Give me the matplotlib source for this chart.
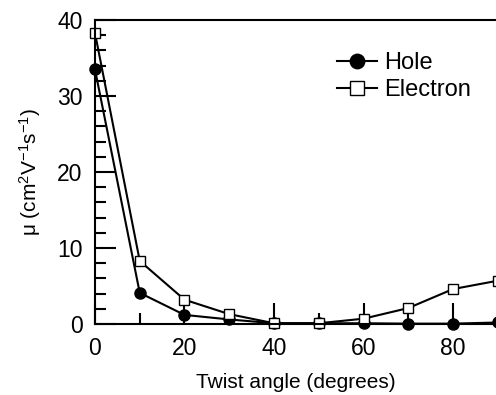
import matplotlib
matplotlib.use("Agg")
import matplotlib.pyplot as plt
from matplotlib.ticker import MultipleLocator

plt.rcParams['font.family'] = ['Liberation Sans', 'DejaVu Sans']
plt.rcParams['mathtext.fontset'] = 'custom'
plt.rcParams['mathtext.rm'] = 'Liberation Sans'
plt.rcParams['mathtext.it'] = 'Liberation Sans'

# data
angle = [0, 10, 20, 30, 40, 50, 60, 70, 80, 90]
hole = [33.5, 4.1, 1.2, 0.6, 0.1, 0.1, 0.1, 0.05, 0.05, 0.2]
electron = [38.3, 8.3, 3.2, 1.3, 0.1, 0.1, 0.7, 2.1, 4.6, 5.7]

fig = plt.figure(figsize=(4.96, 3.95), dpi=100)
ax = fig.add_axes([0.1915, 0.1797, 0.8085, 0.7696])

ax.plot(angle, hole, '-o', color='black', lw=1.5, ms=8, label='Hole', clip_on=False)
ax.plot(angle, electron, '-s', color='black', mfc='white', lw=1.5, ms=7.5,
        mew=1, label='Electron', clip_on=False)

ax.set_xlim(0, 89.6)
ax.set_ylim(0, 40)
ax.xaxis.set_major_locator(MultipleLocator(20))
ax.xaxis.set_minor_locator(MultipleLocator(10))
ax.yaxis.set_major_locator(MultipleLocator(10))
ax.yaxis.set_minor_locator(MultipleLocator(2))
ax.tick_params(which='both', direction='in', width=1.5, labelsize=16.5, top=False, right=False)
ax.tick_params(which='major', length=15, pad=9)
ax.tick_params(which='minor', length=8)
ax.spines['right'].set_visible(False)
for s in ['left', 'bottom', 'top']:
    ax.spines[s].set_linewidth(1.5)

ax.set_xlabel('Twist angle (degrees)', fontsize=15, labelpad=10)
ax.set_ylabel(r'μ (cm$^{2}$V$^{\mathregular{-1}}$s$^{\mathregular{-1}}$)', fontsize=15, labelpad=10)
ax.legend(loc='upper left', bbox_to_anchor=(0.58, 0.925), frameon=False, fontsize=17,
          handlelength=1.7, handletextpad=0.3, labelspacing=0.2, borderaxespad=0,
          markerscale=1.3)

fig.savefig('out.png', dpi=100)
